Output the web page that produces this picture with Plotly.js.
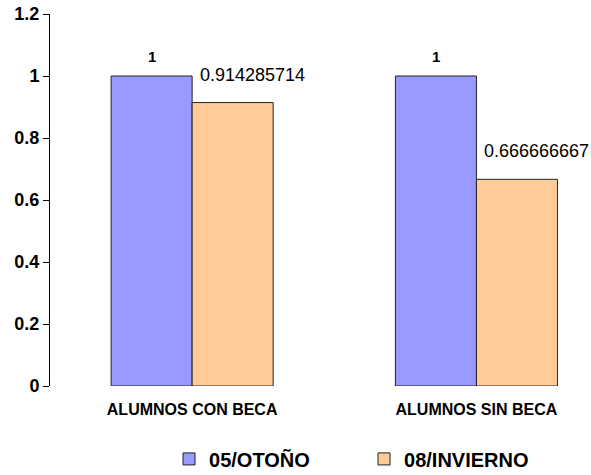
<!DOCTYPE html>
<html>
<head>
<meta charset="utf-8">
<script src="https://cdn.plot.ly/plotly-3.0.1.min.js"></script>
<style>html,body{margin:0;padding:0;background:#fff;}#chart{width:591px;height:475px;}</style>
</head>
<body>
<div id="chart"></div>
<script>
var categories = ["ALUMNOS CON BECA", "ALUMNOS SIN BECA"];
var seriesNames = ["05/OTOÑO", "08/INVIERNO"];
var otono = [1, 1];
var invierno = [0.914285714, 0.666666667];
var otonoLabels = ["1", "1"];
var inviernoLabels = ["0.914285714", "0.666666667"];
var yTicks = [0, 0.2, 0.4, 0.6, 0.8, 1, 1.2];
var yTickText = ["0", "0.2", "0.4", "0.6", "0.8", "1", "1.2"];

var bargap = 0.43;
var groupW = 1 - bargap;
var font = "Liberation Sans, Arial, sans-serif";

var traces = [
  {type: "bar", name: seriesNames[0], x: categories, y: otono,
   marker: {color: "#9999FF", line: {color: "#222222", width: 1}}, hoverinfo: "none"},
  {type: "bar", name: seriesNames[1], x: categories, y: invierno,
   marker: {color: "#FFCC99", line: {color: "#222222", width: 1}}, hoverinfo: "none"}
];

var annotations = [];
categories.forEach(function(c, i) {
  annotations.push({x: i - groupW / 4, y: otono[i], xref: "x", yref: "y",
    text: "<b>" + otonoLabels[i] + "</b>", showarrow: false, yanchor: "middle", yshift: 20,
    font: {family: font, size: 15, color: "#000"}});
  annotations.push({x: i, y: invierno[i], xref: "x", yref: "y",
    text: inviernoLabels[i], showarrow: false, xanchor: "left", yanchor: "middle", xshift: 6, yshift: 28,
    font: {family: font, size: 18, color: "#000"}});
});

var layout = {
  width: 591, height: 475,
  margin: {l: 50, r: 0, t: 14, b: 89, autoexpand: false},
  paper_bgcolor: "#fff", plot_bgcolor: "#fff",
  barmode: "group", bargap: bargap, bargroupgap: 0,
  showlegend: true,
  legend: {orientation: "h", x: 0.22, xanchor: "left", y: -0.196, yanchor: "middle",
    font: {family: font, size: 20, color: "#000", weight: "bold"},
    entrywidth: 150, entrywidthmode: "pixels", traceorder: "normal"},
  xaxis: {type: "category", range: [-0.5, 1.403], showline: false, showgrid: false, zeroline: false, automargin: false,
    ticks: "", tickfont: {family: font, size: 16, color: "#000", weight: "bold"}, ticklabelstandoff: 12},
  yaxis: {range: [0, 1.2], tickvals: yTicks, ticktext: yTickText, showline: true, linecolor: "#000", linewidth: 1,
    ticks: "outside", ticklen: 6, tickcolor: "#000", showgrid: false, zeroline: false, automargin: false,
    tickfont: {family: font, size: 18, color: "#000", weight: "bold"}},
  annotations: annotations,
  font: {family: font}
};

Plotly.newPlot("chart", traces, layout, {staticPlot: true});
</script>
</body>
</html>
